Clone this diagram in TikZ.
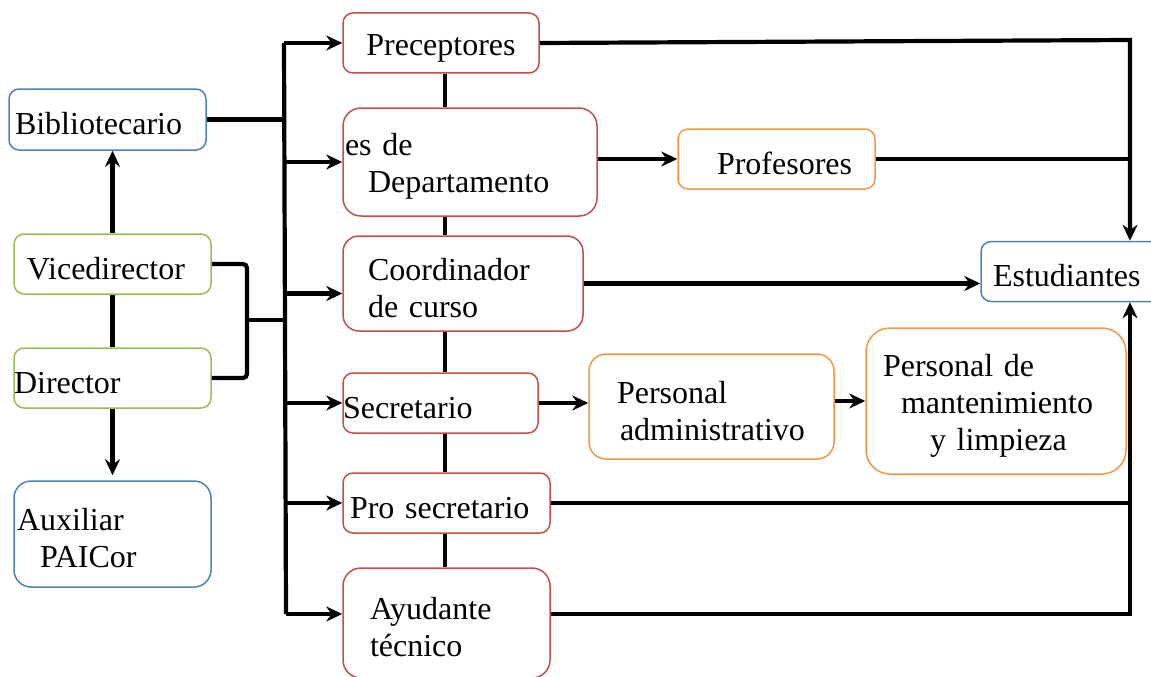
\documentclass[tikz,border=0pt]{standalone}
\usepackage{fontspec}
\setmainfont{Liberation Serif}
\definecolor{boxred}{HTML}{C0504D}
\definecolor{boxblue}{HTML}{4F81BD}
\definecolor{boxgreen}{HTML}{9BBB59}
\definecolor{boxorange}{HTML}{F79646}
\usetikzlibrary{arrows.meta, calc, positioning}

\begin{document}
\begin{tikzpicture}[x=1pt, y=-1pt,
		box/.style={draw, fill=white, line width=1.5pt, rounded corners=10pt, inner sep=0pt, align=left, text height=31pt, font=\fontsize{32}{37}\selectfont},
		redbox/.style={box, draw=boxred},
		bluebox/.style={box, draw=boxblue},
		greenbox/.style={box, draw=boxgreen},
		orangebox/.style={box, draw=boxorange},
		link/.style={line width=4.2pt},
		arr/.style={link, -{Stealth[length=16pt, width=15pt]}}]
			
			\useasboundingbox (0,0) rectangle (1151,677);
			
			% Left column
			\node[bluebox, text width=197pt, minimum height=61pt] (bib) at (107.5,119.5) {\hspace*{6pt}Bibliotecario};
			\node[greenbox, text width=197pt, minimum height=60pt] (vice) at (112.5,264) {\hspace*{13pt}Vicedirector};
			\node[greenbox, text width=197pt, minimum height=60pt] (dir) at (112.5,378) {Director};
			\node[bluebox, text width=197pt, minimum height=106pt, rounded corners=17pt] (aux) at (112.5,534) {\hspace*{3pt}Auxiliar\\\hspace*{26pt}PAICor};
			
			% Middle column
			\node[redbox, text width=196pt, minimum height=60pt, align=center] (prec) at (441,43) {Preceptores};
			\node[redbox, text width=254pt, minimum height=108pt, rounded corners=18pt] (jefe) at (470,162) {\hspace*{2pt}es de\\\hspace*{25pt}Departamento};
			\node[redbox, text width=240pt, minimum height=95pt, rounded corners=16pt] (coord) at (463,283.5) {\hspace*{25pt}Coordinador\\\hspace*{25pt}de curso};
			\node[redbox, text width=195pt, minimum height=60pt] (secr) at (440.5,403) {Secretario};
			\node[redbox, text width=207pt, minimum height=60pt] (pros) at (446.5,503) {\hspace*{7pt}Pro secretario};
			\node[redbox, text width=207pt, minimum height=110pt, rounded corners=18pt] (ayud) at (446.5,623) {\hspace*{27pt}Ayudante\\\hspace*{27pt}técnico};
			
			% Right part
			\node[orangebox, text width=197pt, minimum height=60pt] (prof) at (776.5,159) {\hspace*{39pt}Profesores};
			\node[bluebox, text width=197pt, minimum height=60pt] (estu) at (1079.5,271.5) {\hspace*{12pt}Estudiantes};
			\node[orangebox, text width=245pt, minimum height=105pt, rounded corners=17pt] (padm) at (711.5,406.5) {\hspace*{28pt}Personal\\\hspace*{31pt}administrativo};
			\node[orangebox, text width=260pt, minimum height=146pt, rounded corners=24pt] (pman) at (996,401) {\hspace*{17pt}Personal de\\\hspace*{35pt}mantenimiento\\\hspace*{64pt}y limpieza};
			
			% Trunks
			\coordinate (ttop) at (284,43);
			\coordinate (tbot) at (286,614);
			\coordinate (brk) at (247,320);
			\coordinate (ne) at (1130,40);
			\coordinate (cx) at (445,0);
			
			\draw[link] (ttop) -- (tbot);
			\draw[link] (bib.east) -- (bib.east -| ttop);
			\draw[link, rounded corners=4pt] (vice.east) -- (vice.east -| brk) -- (dir.east -| brk) -- (dir.east);
			\draw[link] (brk) -- (brk -| ttop);
			\draw[arr] (vice.north) -- (vice.north |- bib.south);
			\draw[link] (vice.south) -- (dir.north);
			\draw[arr, shorten >=5pt] (dir.south) -- (aux.north);
			
			% Arrows into the middle column
			\draw[arr] (ttop) -- (prec.west);
			\draw[arr] (jefe.west -| ttop) -- (jefe.west);
			\draw[arr] ([yshift=-10pt]coord.west -| ttop) -- ([yshift=-10pt]coord.west);
			\draw[arr] (secr.west -| ttop) -- (secr.west);
			\draw[arr] (pros.west -| ttop) -- (pros.west);
			\draw[arr] (tbot) -- (tbot -| ayud.west);
			
			\foreach \a/\b in {prec/jefe, jefe/coord, coord/secr, secr/pros, pros/ayud}
			{
				\draw[link] (\a.south -| cx) -- (\b.north -| cx);
			}
			
			% Arrows to the right
			\draw[arr] (prof.west -| jefe.east) -- (prof.west);
			\draw[arr] (secr.east) -- (secr.east -| padm.west);
			\draw[arr] (pman.west -| padm.east) -- (pman.west);
			\draw[arr] (coord.east) -- (coord.east -| estu.west);
			\draw[arr] (prec.east) -- (ne) -- (ne |- estu.north);
			\draw[link] (prof.east) -- (prof.east -| ne);
			\draw[link] (pros.east) -- (pros.east -| ne);
			\draw[arr] (ayud.east |- tbot) -- (tbot -| ne) -- (ne |- estu.south);
			
		\end{tikzpicture}
\end{document}
